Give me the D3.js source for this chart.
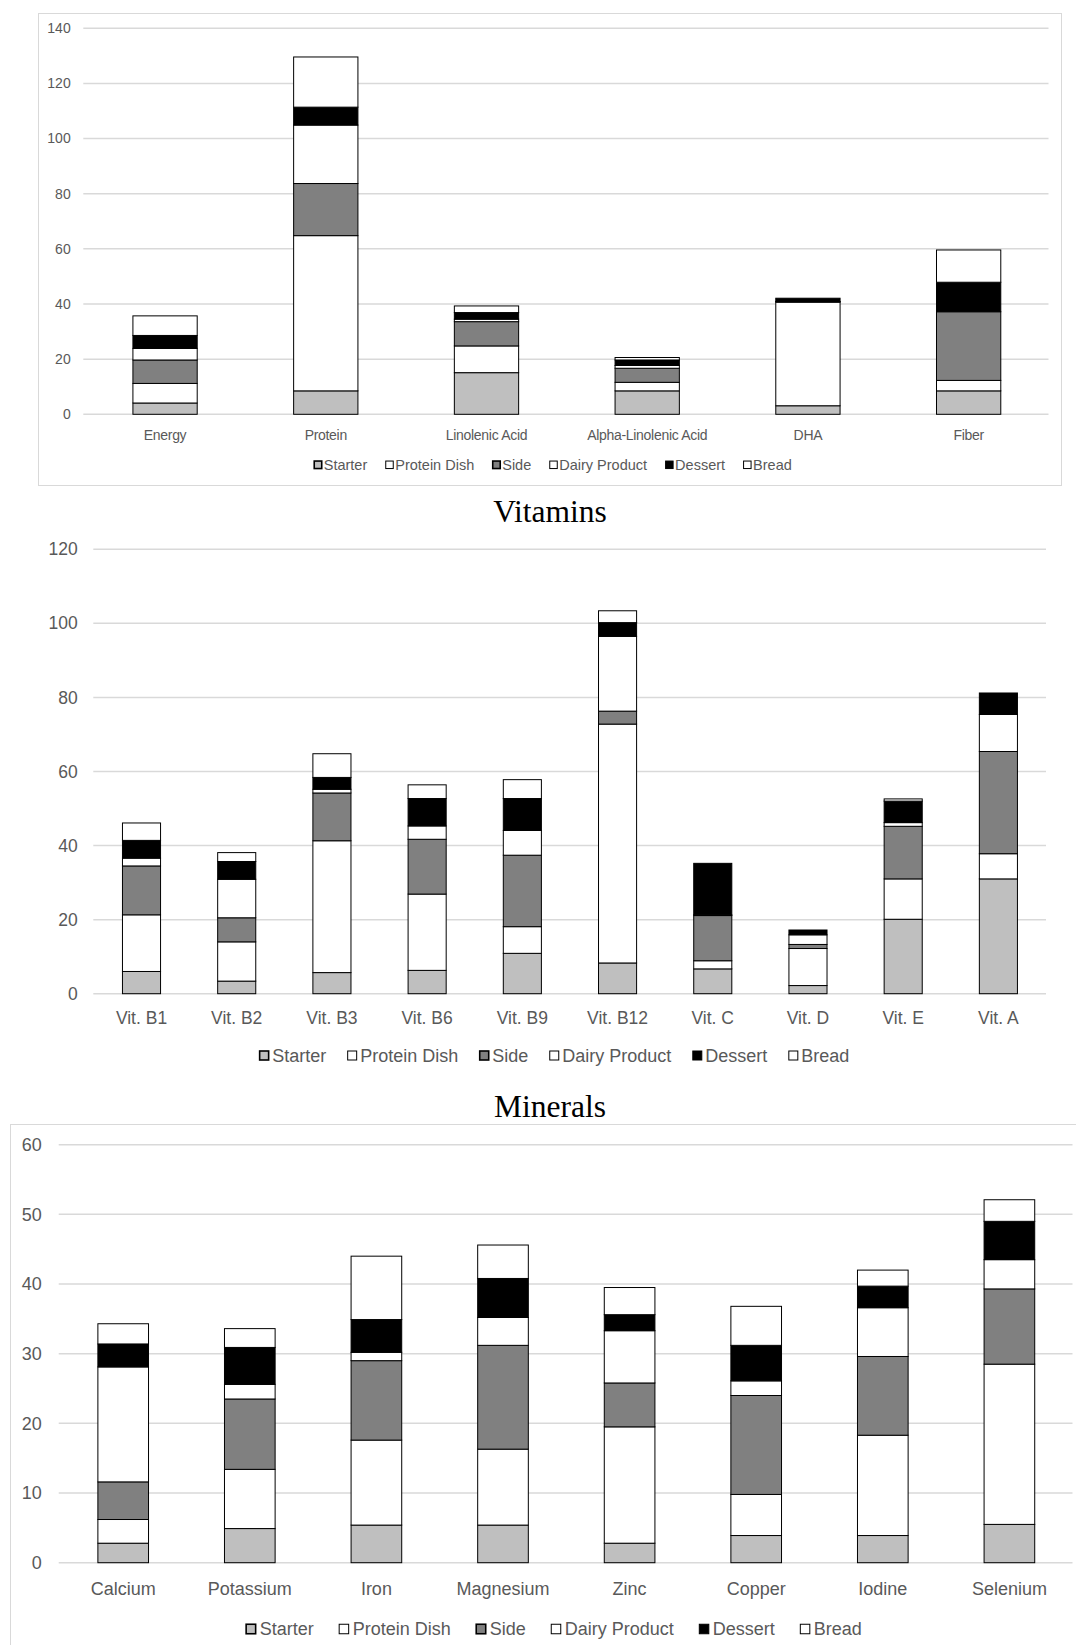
<!DOCTYPE html>
<html>
<head>
<meta charset="utf-8">
<script src="https://cdn.jsdelivr.net/npm/d3@7/dist/d3.min.js"></script>
<style>
  html, body { margin: 0; padding: 0; background: #fff; }
  svg { display: block; }
</style>
</head>
<body>
<svg id="chart" width="1076" height="1645"></svg>
<script>
// ---------- DATA ----------
const seriesNames = ["Starter", "Protein Dish", "Side", "Dairy Product", "Dessert", "Bread"];
const seriesFills = ["#bfbfbf", "#ffffff", "#808080", "#ffffff", "#000000", "#ffffff"];

// Chart 1: macronutrients
const macroCategories = ["Energy", "Protein", "Linolenic Acid", "Alpha-Linolenic Acid", "DHA", "Fiber"];
const macroStarter     = [4.1, 8.5, 15.1, 8.5, 3.1, 8.5];
const macroProteinDish = [7.1, 56.3, 9.7, 3.1, 37.6, 3.8];
const macroSide        = [8.5, 18.9, 8.8, 5.1, 0.1, 24.9];
const macroDairy       = [4.2, 21.2, 0.9, 1.0, 0.1, 0.0];
const macroDessert     = [4.7, 6.5, 2.4, 2.0, 1.2, 10.7];
const macroBread       = [7.1, 18.2, 2.4, 0.9, 0.0, 11.7];
const macroTicks = [0, 20, 40, 60, 80, 100, 120, 140];

// Chart 2: vitamins
const vitCategories = ["Vit. B1", "Vit. B2", "Vit. B3", "Vit. B6", "Vit. B9", "Vit. B12", "Vit. C", "Vit. D", "Vit. E", "Vit. A"];
const vitStarter     = [6.0, 3.4, 5.7, 6.3, 10.9, 8.3, 6.7, 2.2, 20.1, 31.0];
const vitProteinDish = [15.3, 10.6, 35.6, 20.6, 7.2, 64.5, 2.2, 10.0, 10.9, 6.8];
const vitSide        = [13.2, 6.5, 12.9, 14.8, 19.3, 3.5, 12.2, 1.1, 14.2, 27.6];
const vitDairy       = [2.1, 10.4, 1.0, 3.6, 6.7, 20.2, 0.2, 2.6, 1.0, 10.0];
const vitDessert     = [4.8, 4.8, 3.2, 7.4, 8.6, 3.7, 13.9, 1.3, 5.8, 5.8];
const vitBread       = [4.7, 2.4, 6.4, 3.7, 5.1, 3.2, 0.0, 0.0, 0.6, 0.0];
const vitTicks = [0, 20, 40, 60, 80, 100, 120];

// Chart 3: minerals
const minCategories = ["Calcium", "Potassium", "Iron", "Magnesium", "Zinc", "Copper", "Iodine", "Selenium"];
const minStarter     = [2.8, 4.9, 5.4, 5.4, 2.8, 3.9, 3.9, 5.5];
const minProteinDish = [3.4, 8.5, 12.2, 10.9, 16.7, 5.9, 14.4, 23.0];
const minSide        = [5.4, 10.1, 11.4, 14.9, 6.3, 14.2, 11.3, 10.8];
const minDairy       = [16.5, 2.1, 1.2, 4.0, 7.5, 2.1, 7.0, 4.2];
const minDessert     = [3.3, 5.3, 4.7, 5.6, 2.3, 5.1, 3.1, 5.5];
const minBread       = [2.9, 2.7, 9.1, 4.8, 3.9, 5.6, 2.3, 3.1];
const minTicks = [0, 10, 20, 30, 40, 50, 60];

// ---------- DRAW ----------
const svg = d3.select("#chart");
const FONT = "'Liberation Sans', Arial, sans-serif";

function buildRows(cats, arrays) {
  return cats.map((c, i) => {
    const row = { cat: c };
    seriesNames.forEach((s, j) => row[s] = arrays[j][i]);
    return row;
  });
}

function drawChart(cfg) {
  const g = svg.append("g");
  const rows = buildRows(cfg.categories, cfg.arrays);
  const x = d3.scaleBand().domain(cfg.categories)
    .range([cfg.left, cfg.right]).paddingInner(0.6).paddingOuter(0.3);
  const y = d3.scaleLinear().domain([0, cfg.ticks[cfg.ticks.length - 1]])
    .range([cfg.zeroY, cfg.topY]);

  // gridlines
  g.append("g").selectAll("line").data(cfg.ticks).join("line")
    .attr("x1", cfg.gridLeft).attr("x2", cfg.gridRight)
    .attr("y1", d => y(d)).attr("y2", d => y(d))
    .attr("stroke", "#d9d9d9").attr("stroke-width", 1.5);

  // y tick labels
  g.append("g").selectAll("text").data(cfg.ticks).join("text")
    .attr("x", cfg.tickX).attr("y", d => y(d))
    .attr("dy", "0.35em").attr("text-anchor", "end")
    .attr("font-family", FONT).attr("font-size", cfg.tickSize)
    .attr("fill", "#595959")
    .text(d => d);

  // stacked bars
  const stacked = d3.stack().keys(seriesNames)(rows);
  const layers = g.append("g").selectAll("g").data(stacked).join("g")
    .attr("fill", (d, i) => seriesFills[i]);
  layers.selectAll("rect").data(d => d).join("rect")
    .attr("x", d => x(d.data.cat))
    .attr("width", x.bandwidth())
    .attr("y", d => y(d[1]))
    .attr("height", d => Math.max(0, y(d[0]) - y(d[1])))
    .attr("stroke", "#000").attr("stroke-width", 1);

  // category labels
  g.append("g").selectAll("text").data(cfg.categories).join("text")
    .attr("x", d => x(d) + x.bandwidth() / 2).attr("y", cfg.catY)
    .attr("dy", "0.35em").attr("text-anchor", "middle")
    .attr("font-family", FONT).attr("font-size", cfg.catSize)
    .attr("fill", "#595959").attr("letter-spacing", cfg.catSpacing || 0)
    .text(d => d);

  // legend
  const lg = g.append("g");
  const items = lg.selectAll("g").data(seriesNames).join("g");
  items.append("rect")
    .attr("width", cfg.box).attr("height", cfg.box)
    .attr("y", cfg.legendY - cfg.box / 2)
    .attr("fill", (d, i) => seriesFills[i])
    .attr("stroke", "#000").attr("stroke-width", (d, i) => (i === 0 || i === 2) ? 1.6 : 1);
  const texts = items.append("text")
    .attr("x", cfg.box + cfg.boxGap).attr("y", cfg.legendY)
    .attr("dy", "0.35em")
    .attr("font-family", FONT).attr("font-size", cfg.legendSize)
    .attr("fill", "#595959")
    .text(d => d);
  const widths = [];
  texts.each(function () { widths.push(this.getComputedTextLength()); });
  const itemW = widths.map(w => cfg.box + cfg.boxGap + w);
  const total = d3.sum(itemW) + cfg.itemGap * (itemW.length - 1);
  let cx = cfg.legendCenter - total / 2;
  items.attr("transform", (d, i) => {
    const t = `translate(${cx},0)`;
    cx += itemW[i] + cfg.itemGap;
    return t;
  });

  if (cfg.title) {
    g.append("text").attr("x", cfg.titleX).attr("y", cfg.titleY)
      .attr("text-anchor", "middle")
      .attr("font-family", "'Liberation Serif', 'Times New Roman', serif")
      .attr("font-size", 31.5).attr("fill", "#000")
      .text(cfg.title);
  }
}

// chart borders
svg.append("rect").attr("x", 38.5).attr("y", 13.5).attr("width", 1023).attr("height", 472)
  .attr("fill", "none").attr("stroke", "#d9d9d9").attr("stroke-width", 1);
svg.append("rect").attr("x", 10.5).attr("y", 1124.5).attr("width", 1090).attr("height", 600)
  .attr("fill", "none").attr("stroke", "#d9d9d9").attr("stroke-width", 1);

drawChart({
  categories: macroCategories,
  arrays: [macroStarter, macroProteinDish, macroSide, macroDairy, macroDessert, macroBread],
  ticks: macroTicks,
  left: 84.7, right: 1049, gridLeft: 83.3, gridRight: 1048.5,
  zeroY: 414.3, topY: 28.3,
  tickX: 70.7, tickSize: 14,
  catY: 435, catSize: 14, catSpacing: -0.3,
  legendY: 464.8, legendSize: 14.5, box: 7.5, boxGap: 2, itemGap: 18.5, legendCenter: 553
});

drawChart({
  categories: vitCategories,
  arrays: [vitStarter, vitProteinDish, vitSide, vitDairy, vitDessert, vitBread],
  ticks: vitTicks,
  left: 93.9, right: 1046, gridLeft: 93.3, gridRight: 1046,
  zeroY: 993.7, topY: 549.3,
  tickX: 77.7, tickSize: 17.5,
  catY: 1018, catSize: 17.5,
  legendY: 1055.5, legendSize: 18, box: 9, boxGap: 3.5, itemGap: 21.5, legendCenter: 554.5,
  title: "Vitamins", titleX: 550, titleY: 521.5
});

drawChart({
  categories: minCategories,
  arrays: [minStarter, minProteinDish, minSide, minDairy, minDessert, minBread],
  ticks: minTicks,
  left: 59.9, right: 1072.7, gridLeft: 58.7, gridRight: 1072.5,
  zeroY: 1562.7, topY: 1144.7,
  tickX: 41.7, tickSize: 18,
  catY: 1588.3, catSize: 18,
  legendY: 1629, legendSize: 18, box: 9.5, boxGap: 4, itemGap: 25.5, legendCenter: 554,
  title: "Minerals", titleX: 550, titleY: 1116.7
});
</script>
</body>
</html>
